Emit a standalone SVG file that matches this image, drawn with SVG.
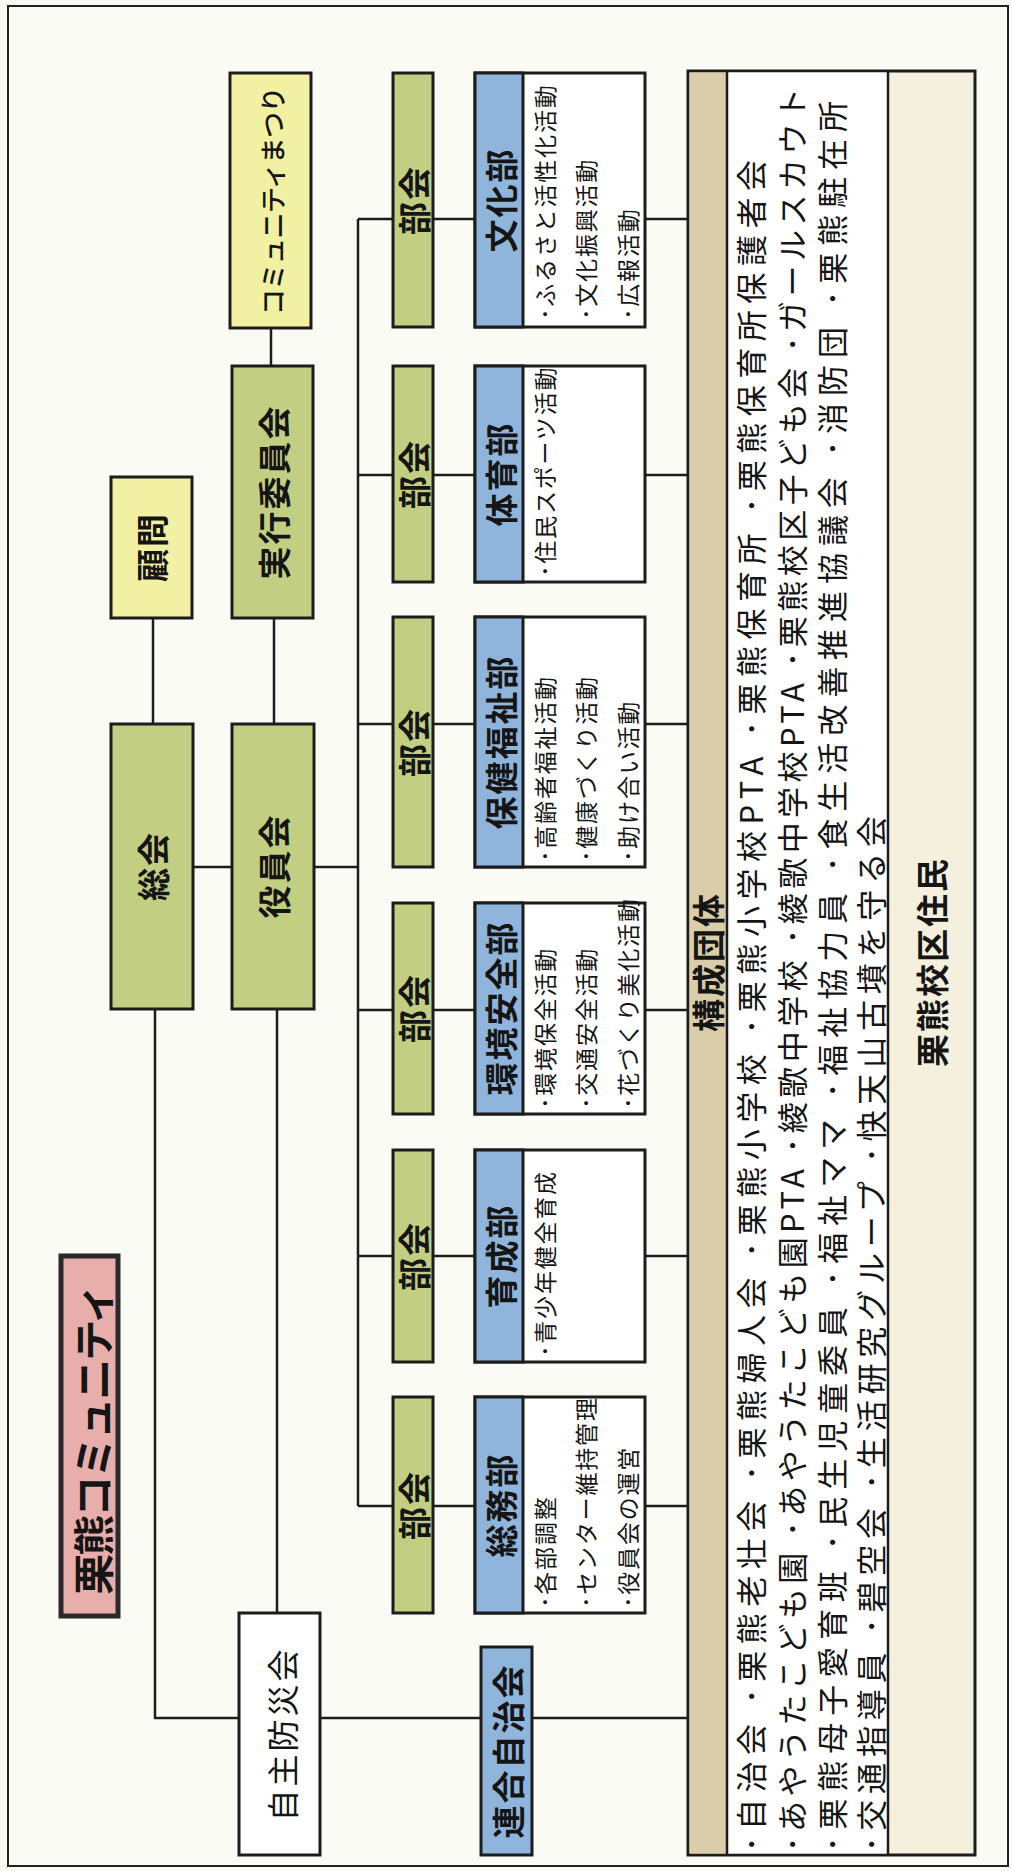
<svg xmlns="http://www.w3.org/2000/svg" width="1012" height="1871" viewBox="0 0 1012 1871">
<style>
.bx{stroke:#1c1c1c;stroke-width:3}
.g{fill:#c2cf83}
.y{fill:#f2f0a2}
.b{fill:#8fb5dc}
.w{fill:#ffffff}
.p{fill:#e8aeab}
.tan{fill:#dacdaa}
.cream{fill:#f4f0dd}
.ln{fill:none;stroke:#1c1c1c;stroke-width:2.5}
text{font-family:"Noto Sans CJK JP","Noto Sans",sans-serif;fill:#151515;dominant-baseline:central}
.h{font-size:33px;font-weight:700;text-anchor:middle;letter-spacing:2px}
.hr{font-size:32px;font-weight:400;text-anchor:middle;letter-spacing:3px}
.it{font-size:23px;letter-spacing:1.8px}
.ls{font-size:31px}
</style>
<rect x="0" y="0" width="1012" height="1871" fill="#fbfbf6"/>
<rect x="8" y="6" width="1000" height="1860" fill="none" stroke="#222" stroke-width="2"/>

<g id="connectors">
<path class="ln" d="M271 328V366"/>
<path class="ln" d="M153 618V724"/>
<path class="ln" d="M274 618V724"/>
<path class="ln" d="M193 867H232"/>
<path class="ln" d="M314 867H358"/>
<path class="ln" d="M358 219V1506"/>
<path class="ln" d="M358 219H393M433 219H475M645 219H688"/>
<path class="ln" d="M358 475H393M433 475H475M645 475H688"/>
<path class="ln" d="M358 724H393M433 724H475M645 724H688"/>
<path class="ln" d="M358 1010H393M433 1010H475M645 1010H688"/>
<path class="ln" d="M358 1256H393M433 1256H475M645 1256H688"/>
<path class="ln" d="M358 1506H393M433 1506H475M645 1506H688"/>
<path class="ln" d="M155 1009V1718H239"/>
<path class="ln" d="M277 1009V1613"/>
<path class="ln" d="M320 1718H688"/>
</g>

<g id="title">
<rect class="p" x="61" y="1256" width="57" height="360" stroke="#2a2a2a" stroke-width="5"/>
<text x="91" y="1440" transform="rotate(-90 91 1440)" style="font-size:41px;font-weight:700;text-anchor:middle;letter-spacing:-2px">栗熊コミュニティ</text>
</g>

<g id="matsuri">
<rect class="bx y" x="230" y="73" width="81" height="255"/>
<text x="271" y="201" transform="rotate(-90 271 201)" style="font-size:26px;font-weight:500;text-anchor:middle;letter-spacing:-0.5px">コミュニティまつり</text>
</g>

<g id="komon">
<rect class="bx y" x="111" y="477" width="81" height="141"/>
<text class="h" x="151" y="547" transform="rotate(-90 151 547)">顧問</text>
</g>

<g id="jikko">
<rect class="bx g" x="232" y="366" width="81" height="252"/>
<text class="h" x="273" y="492" transform="rotate(-90 273 492)">実行委員会</text>
</g>

<g id="sokai">
<rect class="bx g" x="111" y="724" width="82" height="285"/>
<text class="h" x="152" y="866" transform="rotate(-90 152 866)">総会</text>
</g>

<g id="yakuinkai">
<rect class="bx g" x="232" y="724" width="82" height="285"/>
<text class="h" x="273" y="866" transform="rotate(-90 273 866)">役員会</text>
</g>

<g id="bukai-bunka">
<rect class="bx g" x="393" y="73" width="40" height="254"/>
<text class="h" x="413" y="200" transform="rotate(-90 413 200)">部会</text>
</g>
<g id="bukai-taiiku">
<rect class="bx g" x="393" y="366" width="40" height="216"/>
<text class="h" x="413" y="474" transform="rotate(-90 413 474)">部会</text>
</g>
<g id="bukai-hoken">
<rect class="bx g" x="393" y="617" width="40" height="250"/>
<text class="h" x="413" y="742" transform="rotate(-90 413 742)">部会</text>
</g>
<g id="bukai-kankyo">
<rect class="bx g" x="393" y="903" width="40" height="211"/>
<text class="h" x="413" y="1008" transform="rotate(-90 413 1008)">部会</text>
</g>
<g id="bukai-ikusei">
<rect class="bx g" x="393" y="1150" width="40" height="212"/>
<text class="h" x="413" y="1256" transform="rotate(-90 413 1256)">部会</text>
</g>
<g id="bukai-somu">
<rect class="bx g" x="393" y="1397" width="40" height="216"/>
<text class="h" x="413" y="1505" transform="rotate(-90 413 1505)">部会</text>
</g>

<g id="bunka">
<rect class="bx w" x="475" y="73" width="170" height="254"/>
<rect class="bx b" x="475" y="73" width="48" height="254"/>
<text class="h" x="500" y="200" transform="rotate(-90 500 200)">文化部</text>
<text class="it" x="544" y="320" transform="rotate(-90 544 320)">･ふるさと活性化活動</text>
<text class="it" x="585" y="320" transform="rotate(-90 585 320)">･文化振興活動</text>
<text class="it" x="627" y="320" transform="rotate(-90 627 320)">･広報活動</text>
</g>

<g id="taiiku">
<rect class="bx w" x="475" y="366" width="170" height="216"/>
<rect class="bx b" x="475" y="366" width="48" height="216"/>
<text class="h" x="500" y="474" transform="rotate(-90 500 474)">体育部</text>
<text class="it" x="544" y="577" transform="rotate(-90 544 577)">･住民スポーツ活動</text>
</g>

<g id="hoken">
<rect class="bx w" x="475" y="617" width="170" height="250"/>
<rect class="bx b" x="475" y="617" width="48" height="250"/>
<text class="h" x="500" y="742" transform="rotate(-90 500 742)">保健福祉部</text>
<text class="it" x="544" y="862" transform="rotate(-90 544 862)">･高齢者福祉活動</text>
<text class="it" x="585" y="862" transform="rotate(-90 585 862)">･健康づくり活動</text>
<text class="it" x="627" y="862" transform="rotate(-90 627 862)">･助け合い活動</text>
</g>

<g id="kankyo">
<rect class="bx w" x="475" y="903" width="170" height="211"/>
<rect class="bx b" x="475" y="903" width="48" height="211"/>
<text class="h" x="500" y="1008" transform="rotate(-90 500 1008)">環境安全部</text>
<text class="it" x="544" y="1109" transform="rotate(-90 544 1109)">･環境保全活動</text>
<text class="it" x="585" y="1109" transform="rotate(-90 585 1109)">･交通安全活動</text>
<text class="it" x="627" y="1109" transform="rotate(-90 627 1109)">･花づくり美化活動</text>
</g>

<g id="ikusei">
<rect class="bx w" x="475" y="1150" width="170" height="212"/>
<rect class="bx b" x="475" y="1150" width="48" height="212"/>
<text class="h" x="500" y="1256" transform="rotate(-90 500 1256)">育成部</text>
<text class="it" x="544" y="1357" transform="rotate(-90 544 1357)">･青少年健全育成</text>
</g>

<g id="somu">
<rect class="bx w" x="475" y="1397" width="170" height="216"/>
<rect class="bx b" x="475" y="1397" width="48" height="216"/>
<text class="h" x="500" y="1505" transform="rotate(-90 500 1505)">総務部</text>
<text class="it" x="544" y="1608" transform="rotate(-90 544 1608)">･各部調整</text>
<text class="it" x="585" y="1608" transform="rotate(-90 585 1608)">･センター維持管理</text>
<text class="it" x="627" y="1608" transform="rotate(-90 627 1608)">･役員会の運営</text>
</g>

<g id="jishubosai">
<rect class="bx w" x="239" y="1613" width="81" height="242"/>
<text class="hr" x="281" y="1734" transform="rotate(-90 281 1734)">自主防災会</text>
</g>

<g id="rengo">
<rect class="bx b" x="481" y="1647" width="51" height="208"/>
<text class="h" x="507" y="1751" transform="rotate(-90 507 1751)">連合自治会</text>
</g>

<g id="kosei">
<rect class="bx cream" x="688" y="71" width="287" height="1784"/>
<rect class="tan" x="689.5" y="72.5" width="37" height="1781"/>
<rect class="w" x="727" y="72.5" width="161" height="1781"/>
<path class="ln" d="M727 72V1855M888 72V1855" stroke-width="2.5"/>
<text class="h" x="707" y="962" transform="rotate(-90 707 962)">構成団体</text>
<text class="ls" x="749" y="1852" transform="rotate(-90 749 1852)" textLength="1692" lengthAdjust="spacing">･自治会 ･栗熊老壮会 ･栗熊婦人会 ･栗熊小学校 ･栗熊小学校PTA ･栗熊保育所 ･栗熊保育所保護者会</text>
<text class="ls" x="790" y="1852" transform="rotate(-90 790 1852)" textLength="1764" lengthAdjust="spacing">･あやうたこども園 ･あやうたこども園PTA ･綾歌中学校 ･綾歌中学校PTA ･栗熊校区子ども会 ･ガールスカウト</text>
<text class="ls" x="830" y="1852" transform="rotate(-90 830 1852)" textLength="1751" lengthAdjust="spacing">･栗熊母子愛育班 ･民生児童委員 ･福祉ママ ･福祉協力員 ･食生活改善推進協議会 ･消防団 ･栗熊駐在所</text>
<text class="ls" x="869" y="1852" transform="rotate(-90 869 1852)" textLength="1036" lengthAdjust="spacing">･交通指導員 ･碧空会 ･生活研究グループ ･快天山古墳を守る会</text>
<text class="h" x="931" y="962" transform="rotate(-90 931 962)">栗熊校区住民</text>
</g>
</svg>
